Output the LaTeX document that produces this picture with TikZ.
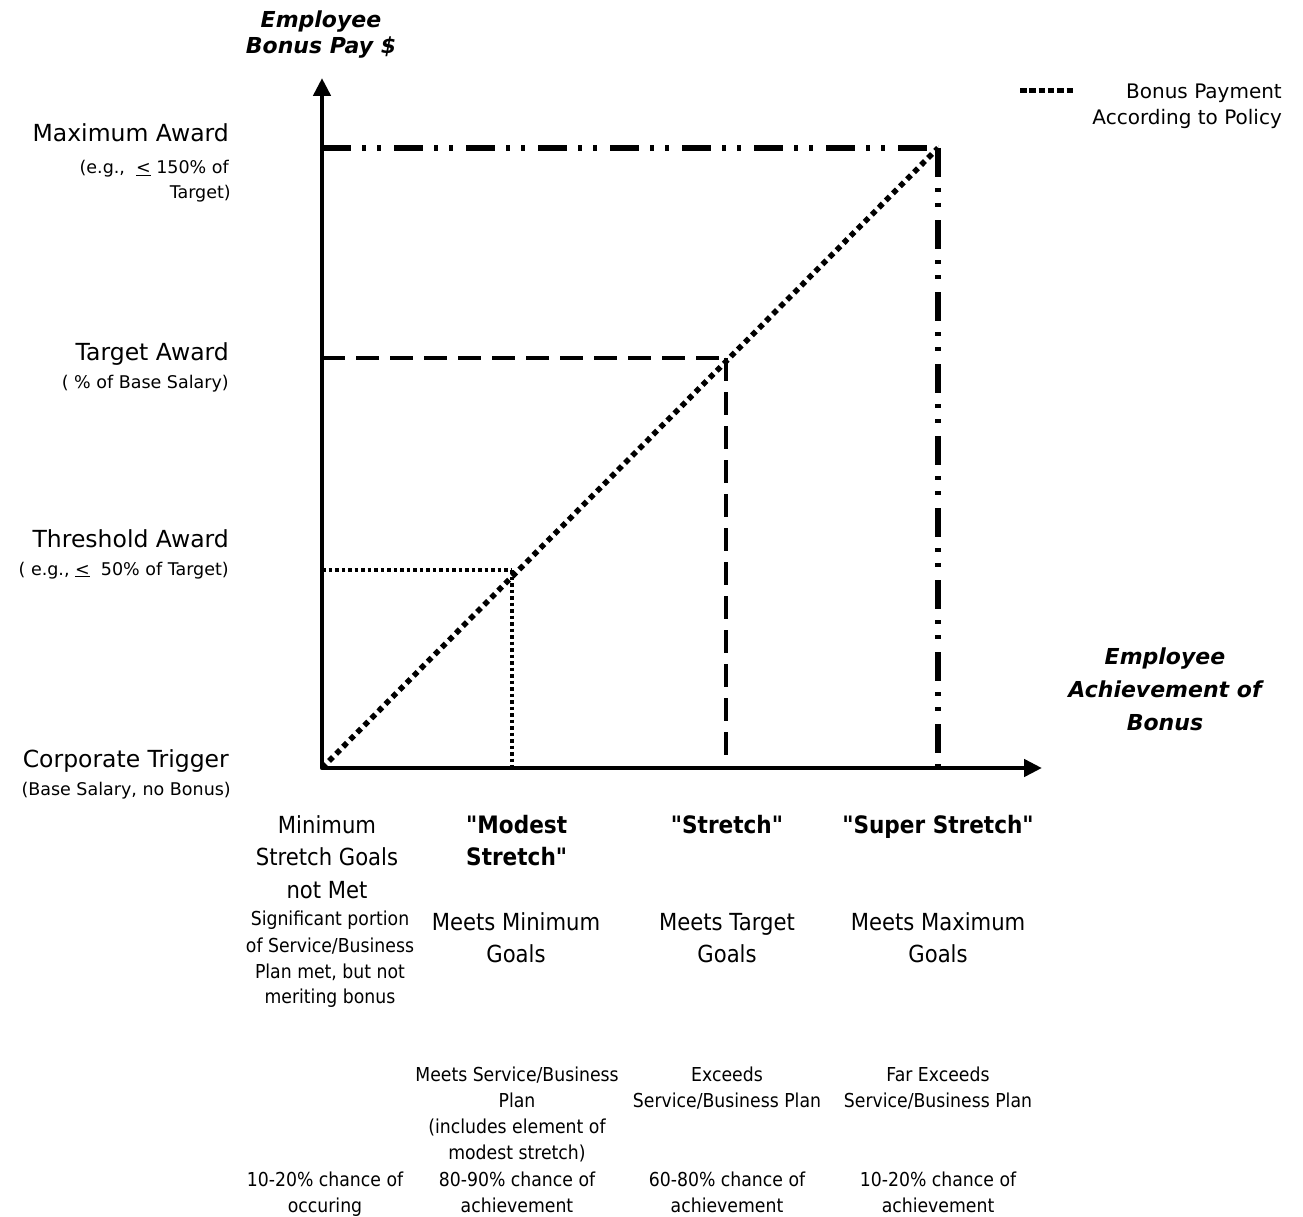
\documentclass[tikz,border=0pt]{standalone}
\usepackage{fontspec}
\setmainfont{DejaVu Sans}
\newfontfamily\condfont[FakeStretch=0.9]{DejaVu Sans}
\usetikzlibrary{arrows.meta}
\newcommand\mytxt[5]{\node[#4] (#1) at (#2,#3) {#5};}
\begin{document}
\begin{tikzpicture}[x=1pt,y=-1pt,
  lab/.style={inner sep=0pt},
  rb/.style={lab,anchor=base east},
  cb/.style={lab,anchor=base},
  lb/.style={lab,anchor=base west},
  fbig/.style={font=\fontsize{23.5}{28}\selectfont},
  fsmall/.style={font=\fontsize{17.5}{21}\selectfont},
  faxis/.style={font=\fontsize{22}{26}\selectfont\bfseries\itshape},
  fleg/.style={font=\fontsize{20}{24}\selectfont},
  cbig/.style={font=\condfont\fontsize{23.5}{28}\selectfont},
  csmall/.style={font=\condfont\fontsize{19.2}{23}\selectfont},
  cbold/.style={font=\condfont\fontsize{24}{28}\selectfont\bfseries},
  axisline/.style={line width=4.5pt,line join=round,
    {Triangle[length=18pt,width=17pt]}-{Triangle[length=18pt,width=17pt]}},
  maxline/.style={line width=5.5pt,dash pattern=on 29pt off 11pt on 4pt off 11pt on 4pt off 13pt},
  tgtline/.style={line width=4pt,dash pattern=on 23pt off 11pt},
  thrline/.style={line width=3.5pt,dash pattern=on 3.5pt off 3pt},
  payline/.style={line width=5.5pt,dash pattern=on 5.5pt off 4.5pt},
  legline/.style={line width=5pt,dash pattern=on 6.5pt off 2.8pt}
]
\useasboundingbox (0,0) rectangle (1303,1217);

% key points
\coordinate (O) at (322,768);
\coordinate (Ytip) at (322,78);
\coordinate (Xtip) at (1042,768);
\coordinate (My) at (322,148);
\coordinate (Mx) at (938,148);
\coordinate (Mb) at (938,768);
\coordinate (Ty) at (322,358);
\coordinate (Tx) at (726,358);
\coordinate (Tb) at (726,768);
\coordinate (Hy) at (322,570);
\coordinate (Hx) at (512,570);
\coordinate (Hb) at (512,768);

% guide lines
\draw[maxline] (My) -- (Mx);
\draw[maxline] (Mx) -- (Mb);
\draw[tgtline] (Ty) -- (Tx);
\draw[tgtline] (Tx) -- (Tb);
\draw[thrline] (Hy) -- (Hx);
\draw[thrline] (Hx) -- (Hb);
\draw[payline] (O) -- (Mx);

% axes
\draw[axisline] (Ytip) -- (O) -- (Xtip);

% legend
\coordinate (La) at (1020,91);
\coordinate (Lb) at (1075,91);
\draw[legline] (La) -- (Lb);
\mytxt{leg1}{1282}{99}{rb,fleg}{Bonus Payment}
\mytxt{leg2}{1282}{125}{rb,fleg}{According to Policy}

% axis labels
\mytxt{ya1}{321}{28}{cb,faxis}{Employee}
\mytxt{ya2}{321}{54}{cb,faxis}{Bonus Pay \$}
\mytxt{xa1}{1165}{664}{cb,faxis}{Employee}
\mytxt{xa2}{1165}{697}{cb,faxis}{Achievement of}
\mytxt{xa3}{1165}{730}{cb,faxis}{Bonus}

% left labels
\mytxt{max1}{229}{142}{rb,fbig}{Maximum Award}
\mytxt{max2}{229}{174}{rb,fsmall}{(e.g.,\ \ \underline{<}\ 150\% of}
\mytxt{max3}{231}{199}{rb,fsmall}{Target)}
\mytxt{tgt1}{229}{360}{rb,fbig}{Target Award}
\mytxt{tgt2}{229}{388}{rb,fsmall}{( \% of Base Salary)}
\mytxt{thr1}{229}{547}{rb,fbig}{Threshold Award}
\mytxt{thr2}{229}{575}{rb,fsmall}{( e.g., \underline{<}\ \ 50\% of Target)}
\mytxt{cor1}{229}{767}{rb,fbig}{Corporate Trigger}
\mytxt{cor2}{231}{795}{rb,fsmall}{(Base Salary, no Bonus)}

% column 1
\mytxt{c1a}{327}{833}{cb,cbig}{Minimum}
\mytxt{c1b}{327}{865}{cb,cbig}{Stretch Goals}
\mytxt{c1c}{327}{898}{cb,cbig}{not Met}
\mytxt{c1d}{330}{925}{cb,csmall}{Significant portion}
\mytxt{c1e}{330}{952}{cb,csmall}{of Service/Business}
\mytxt{c1f}{330}{978}{cb,csmall}{Plan met, but not}
\mytxt{c1g}{330}{1003}{cb,csmall}{meriting bonus}
\mytxt{c1h}{325}{1186}{cb,csmall}{10-20\% chance of}
\mytxt{c1i}{325}{1212}{cb,csmall}{occuring}

% column 2
\mytxt{c2a}{466}{833}{lb,cbold}{"Modest}
\mytxt{c2b}{466}{865}{lb,cbold}{Stretch"}
\mytxt{c2c}{516}{930}{cb,cbig}{Meets Minimum}
\mytxt{c2d}{516}{962}{cb,cbig}{Goals}
\mytxt{c2e}{517}{1081}{cb,csmall}{Meets Service/Business}
\mytxt{c2f}{517}{1107}{cb,csmall}{Plan}
\mytxt{c2g}{517}{1133}{cb,csmall}{(includes element of}
\mytxt{c2h}{517}{1159}{cb,csmall}{modest stretch)}
\mytxt{c2i}{517}{1186}{cb,csmall}{80-90\% chance of}
\mytxt{c2j}{517}{1212}{cb,csmall}{achievement}

% column 3
\mytxt{c3a}{727}{833}{cb,cbold}{"Stretch"}
\mytxt{c3b}{727}{930}{cb,cbig}{Meets Target}
\mytxt{c3c}{727}{962}{cb,cbig}{Goals}
\mytxt{c3d}{727}{1081}{cb,csmall}{Exceeds}
\mytxt{c3e}{727}{1107}{cb,csmall}{Service/Business Plan}
\mytxt{c3f}{727}{1186}{cb,csmall}{60-80\% chance of}
\mytxt{c3g}{727}{1212}{cb,csmall}{achievement}

% column 4
\mytxt{c4a}{938}{833}{cb,cbold}{"Super Stretch"}
\mytxt{c4b}{938}{930}{cb,cbig}{Meets Maximum}
\mytxt{c4c}{938}{962}{cb,cbig}{Goals}
\mytxt{c4d}{938}{1081}{cb,csmall}{Far Exceeds}
\mytxt{c4e}{938}{1107}{cb,csmall}{Service/Business Plan}
\mytxt{c4f}{938}{1186}{cb,csmall}{10-20\% chance of}
\mytxt{c4g}{938}{1212}{cb,csmall}{achievement}
\end{tikzpicture}
\end{document}
